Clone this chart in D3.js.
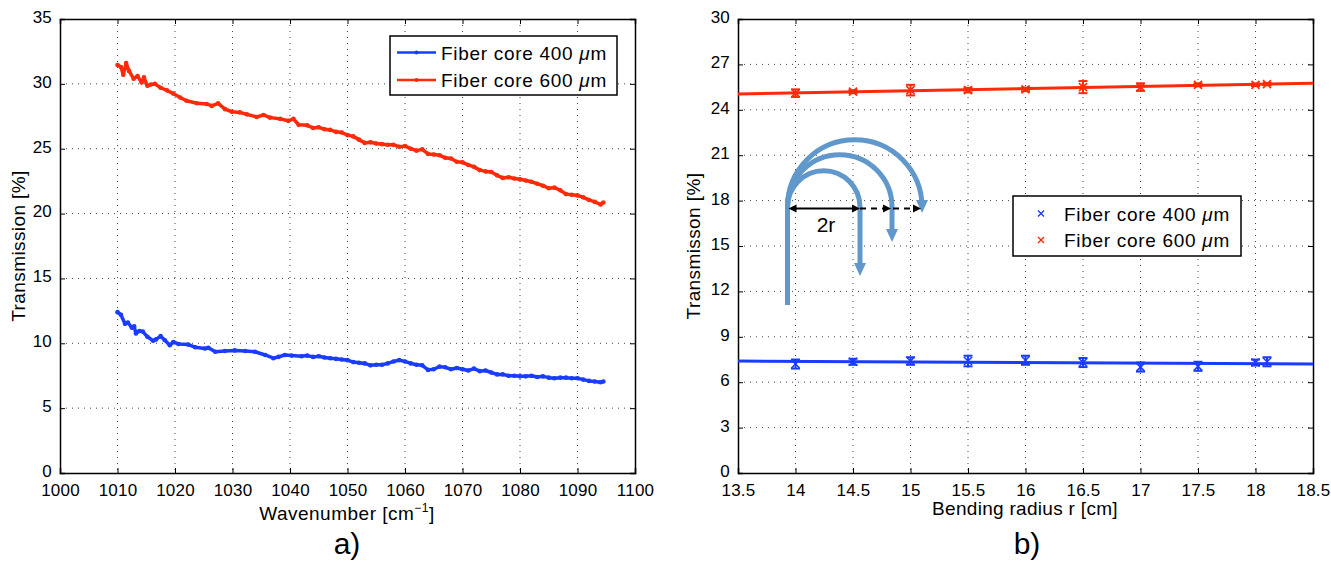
<!DOCTYPE html>
<html><head><meta charset="utf-8">
<script src="https://cdn.jsdelivr.net/npm/d3@7"></script>
<style>
body{margin:0;background:#fff;}
text{font-family:"Liberation Sans",Arial,Helvetica,sans-serif;fill:#000;}
</style></head>
<body><svg id="c" width="1331" height="564"></svg>
<script>
// ---------- Data: panel a ----------
const wnRed = [1010.0,1010.6,1011.0,1011.5,1012.0,1012.8,1013.5,1014.2,1014.6,1015.2,1015.8,1016.5,1017.5,1018.6,1019.7,1020.9,1022.0,1023.8,1025.5,1026.4,1027.5,1028.7,1029.9,1031.3,1032.5,1034.2,1035.4,1036.5,1038.3,1039.7,1040.6,1041.5,1043,1044,1045,1046,1047,1048,1049,1050,1051,1052,1053,1054,1055,1056,1057,1058,1059,1060,1061,1062,1063,1064,1065,1066,1067,1068,1069,1070,1071,1072,1073,1074,1075,1076,1077,1078,1079,1080,1081,1082,1083,1084,1085,1086,1087,1088,1089,1090,1091,1092,1093,1094,1094.5];
const tRed = [31.45,31.3,30.7,31.6,31.0,30.4,30.6,30.1,30.5,29.85,29.95,30.0,29.7,29.5,29.25,28.95,28.7,28.5,28.45,28.3,28.5,28.05,27.85,27.8,27.65,27.45,27.6,27.4,27.3,27.15,27.3,26.85,26.8,26.6,26.65,26.5,26.45,26.3,26.25,26.05,25.95,25.7,25.45,25.5,25.4,25.35,25.3,25.3,25.15,25.2,25.0,24.85,24.95,24.6,24.55,24.5,24.3,24.25,24.0,23.95,23.75,23.6,23.35,23.25,23.2,22.95,22.75,22.8,22.7,22.65,22.55,22.45,22.3,22.15,21.95,22.0,21.8,21.5,21.45,21.4,21.25,21.05,20.9,20.7,20.85];
const wnBlue = [1010.0,1010.6,1011.3,1011.8,1012.5,1012.9,1013.2,1013.8,1014.4,1015.2,1016.2,1016.7,1017.5,1018.2,1019.1,1019.7,1020.6,1022.3,1023.5,1025.2,1025.8,1027.0,1028.7,1030.4,1032.2,1033.9,1035.7,1037.1,1038.0,1039.1,1040.3,1042.0,1043,1044,1045,1046,1047,1048,1049,1050,1051,1052,1053,1054,1055,1056,1057,1058,1059,1060,1061,1062,1063,1064,1065,1066,1067,1068,1069,1070,1071,1072,1073,1074,1075,1076,1077,1078,1079,1080,1081,1082,1083,1084,1085,1086,1087,1088,1089,1090,1091,1092,1093,1094,1094.5];
const tBlue = [12.4,12.2,11.5,11.6,11.2,11.3,10.75,10.95,10.9,10.5,10.2,10.3,10.55,10.25,9.85,10.1,9.95,9.9,9.7,9.6,9.65,9.35,9.4,9.45,9.4,9.35,9.1,8.85,8.95,9.1,9.05,9.0,9.05,8.95,9.0,8.9,8.85,8.8,8.75,8.7,8.55,8.5,8.45,8.3,8.35,8.35,8.45,8.6,8.7,8.6,8.45,8.35,8.3,7.95,8.0,8.2,8.15,8.0,8.1,8.0,7.9,8.05,7.85,7.9,7.75,7.6,7.6,7.5,7.5,7.45,7.45,7.5,7.4,7.45,7.35,7.3,7.35,7.35,7.3,7.3,7.2,7.1,7.05,7.0,7.05];
const xTicksA = [1000,1010,1020,1030,1040,1050,1060,1070,1080,1090,1100];
const yTicksA = [0,5,10,15,20,25,30,35];

// ---------- Data: panel b ----------
const radius = [14,14.5,15,15.5,16,16.5,17,17.5,18,18.1];
const t600 = [25.1,25.2,25.3,25.3,25.35,25.5,25.5,25.65,25.65,25.7];
const e600 = [0.25,0.1,0.35,0.15,0.12,0.4,0.25,0.1,0.08,0.08];
const t400 = [7.2,7.35,7.4,7.4,7.45,7.3,7.0,7.05,7.3,7.35];
const e400 = [0.3,0.2,0.25,0.35,0.3,0.3,0.3,0.3,0.2,0.3];
const fitX = [13.5,18.5];
const fit600 = [25.05,25.75];
const fit400 = [7.4,7.2];
const xTicksB = [13.5,14,14.5,15,15.5,16,16.5,17,17.5,18,18.5];
const yTicksB = [0,3,6,9,12,15,18,21,24,27,30];

const BLUE = "#1a3cff", RED = "#ff2a0a";
const svg = d3.select("#c");
svg.append("rect").attr("width",1331).attr("height",564).attr("fill","#fff");

function frame(g, x, y, xt, yt, fmtX){
  const [x0,x1] = x.range(), [y0,y1] = y.range();
  g.append("g").selectAll("line").data(xt.slice(1,-1)).join("line")
    .attr("x1",d=>x(d)).attr("x2",d=>x(d)).attr("y1",y1).attr("y2",y0)
    .attr("stroke","#444").attr("stroke-width",1).attr("stroke-dasharray","1,5");
  g.append("g").selectAll("line").data(yt.slice(1,-1)).join("line")
    .attr("y1",d=>y(d)).attr("y2",d=>y(d)).attr("x1",x0).attr("x2",x1)
    .attr("stroke","#444").attr("stroke-width",1).attr("stroke-dasharray","1,5");
  const ax = g.append("g");
  ax.append("g").attr("transform",`translate(0,${y0})`)
    .call(d3.axisBottom(x).tickValues(xt).tickSize(-5).tickPadding(11).tickFormat(fmtX));
  ax.append("g").attr("transform",`translate(0,${y1})`)
    .call(d3.axisTop(x).tickValues(xt).tickSize(-5).tickFormat(""));
  const ly = ax.append("g").attr("transform",`translate(${x0},0)`)
    .call(d3.axisLeft(y).tickValues(yt).tickSize(-5).tickPadding(8).tickFormat(d3.format("d")));
  ly.selectAll("text").attr("dy","0.2em");
  ax.append("g").attr("transform",`translate(${x1},0)`)
    .call(d3.axisRight(y).tickValues(yt).tickSize(-5).tickFormat(""));
  ax.selectAll(".domain").attr("stroke","#000").attr("stroke-width",1.5);
  ax.selectAll(".tick line").attr("stroke","#000").attr("stroke-width",1);
  ax.selectAll("text").attr("font-size",17).attr("letter-spacing","0.2px")
    .attr("font-family",'"Liberation Sans",Arial,sans-serif').attr("fill","#000");
}

// ---------- Panel a ----------
const xA = d3.scaleLinear().domain([1000,1100]).range([60,635]);
const yA = d3.scaleLinear().domain([0,35]).range([473,19]);
const gA = svg.append("g");
frame(gA, xA, yA, xTicksA, yTicksA, d3.format("d"));

const lineA = d3.line().x(d=>xA(d[0])).y(d=>yA(d[1]));
[[wnBlue,tBlue,BLUE],[wnRed,tRed,RED]].forEach(([xs,ys,c])=>{
  const pts = xs.map((v,i)=>[v,ys[i]]);
  gA.append("path").datum(pts).attr("d",lineA).attr("fill","none").attr("stroke",c).attr("stroke-width",3.5).attr("stroke-linejoin","round");
  gA.append("g").selectAll("circle").data(pts).join("circle")
    .attr("cx",d=>xA(d[0])).attr("cy",d=>yA(d[1])).attr("r",2.3).attr("fill",c);
});

function legendText(parent, x, y, n){
  const t = parent.append("text").attr("x",x).attr("y",y).attr("font-size",19).attr("letter-spacing","0.7px");
  t.append("tspan").text(`Fiber core ${n} `);
  t.append("tspan").attr("font-style","italic").text("\u03bc");
  t.append("tspan").text("m");
}

// legend a
const legA = gA.append("g");
legA.append("rect").attr("x",390).attr("y",36).attr("width",227).attr("height",59).attr("fill","#fff").attr("stroke","#000").attr("stroke-width",1.5);
[["400",BLUE,52.5],["600",RED,80]].forEach(([n,c,yy])=>{
  legA.append("line").attr("x1",397).attr("x2",436).attr("y1",yy).attr("y2",yy).attr("stroke",c).attr("stroke-width",2.5);
  legA.append("circle").attr("cx",416.5).attr("cy",yy).attr("r",2).attr("fill",c);
  legendText(legA, 441, yy+7, n);
});

// labels a
const xl = svg.append("text").attr("x",347).attr("y",520).attr("text-anchor","middle").attr("font-size",19).attr("letter-spacing","0.5px");
xl.append("tspan").text("Wavenumber [cm");
xl.append("tspan").attr("dy",-8).attr("font-size",12).text("\u22121");
xl.append("tspan").attr("dy",8).text("]");
svg.append("text").attr("transform","translate(25,246) rotate(-90)").attr("text-anchor","middle").attr("font-size",19).attr("letter-spacing","0.4px").text("Transmission [%]");
svg.append("text").attr("x",347).attr("y",554).attr("text-anchor","middle").attr("font-size",30).text("a)");

// ---------- Panel b ----------
const xB = d3.scaleLinear().domain([13.5,18.5]).range([738,1313]);
const yB = d3.scaleLinear().domain([0,30]).range([473,19]);
const gB = svg.append("g");
frame(gB, xB, yB, xTicksB, yTicksB, d => String(d));

[[fit400,t400,e400,BLUE],[fit600,t600,e600,RED]].forEach(([fy,ys,es,c])=>{
  gB.append("line").attr("x1",xB(fitX[0])).attr("x2",xB(fitX[1])).attr("y1",yB(fy[0])).attr("y2",yB(fy[1]))
    .attr("stroke",c).attr("stroke-width",3);
  const g = gB.append("g").attr("stroke",c).attr("stroke-width",2);
  radius.forEach((r,i)=>{
    const cx = xB(r), yt = yB(ys[i]+es[i]), yb = yB(ys[i]-es[i]), cy = yB(ys[i]);
    g.append("line").attr("x1",cx).attr("x2",cx).attr("y1",yt).attr("y2",yb);
    g.append("line").attr("x1",cx-4.5).attr("x2",cx+4.5).attr("y1",yt).attr("y2",yt);
    g.append("line").attr("x1",cx-4.5).attr("x2",cx+4.5).attr("y1",yb).attr("y2",yb);
    g.append("path").attr("d",`M${cx-4},${cy-4}L${cx+4},${cy+4}M${cx-4},${cy+4}L${cx+4},${cy-4}`).attr("stroke-width",1.6);
  });
});

// legend b
const legB = gB.append("g");
legB.append("rect").attr("x",1013).attr("y",196).attr("width",228).attr("height",60).attr("fill","#fff").attr("stroke","#000").attr("stroke-width",1.5);
[["400",BLUE,213.5],["600",RED,240]].forEach(([n,c,yy])=>{
  legB.append("path").attr("d",`M1038,${yy-3}L1044,${yy+3}M1038,${yy+3}L1044,${yy-3}`).attr("stroke",c).attr("stroke-width",1.4);
  legendText(legB, 1064, yy+7, n);
});

// labels b
svg.append("text").attr("x",1025).attr("y",515).attr("text-anchor","middle").attr("font-size",19).attr("letter-spacing","0.3px").text("Bending radius r [cm]");
svg.append("text").attr("transform","translate(700,246) rotate(-90)").attr("text-anchor","middle").attr("font-size",19).attr("letter-spacing","0.4px").text("Transmisson [%]");
svg.append("text").attr("x",1027).attr("y",554).attr("text-anchor","middle").attr("font-size",30).text("b)");

// ---------- Inset illustration (bending sketch) ----------
const ill = svg.append("g");
const SB = "#6098cc";
const sx = 787.5, sy = 207;
ill.append("line").attr("x1",sx).attr("x2",sx).attr("y1",305).attr("y2",sy).attr("stroke",SB).attr("stroke-width",5);
[[860,272],[892,238],[922,209]].forEach(([ex,ey])=>{
  const R = (ex-sx)/2;
  ill.append("path").attr("d",`M${sx},${sy}A${R},${R} 0 0 1 ${ex},${sy}L${ex},${ey-8}`)
    .attr("fill","none").attr("stroke",SB).attr("stroke-width",5);
  ill.append("path").attr("d",`M${ex-6},${ey-9}L${ex+6},${ey-9}L${ex},${ey+4}Z`).attr("fill",SB);
});
const ay = 208.5;
ill.append("line").attr("x1",sx+6).attr("x2",860-6).attr("y1",ay).attr("y2",ay).attr("stroke","#000").attr("stroke-width",1.8);
ill.append("line").attr("x1",860).attr("x2",922-6).attr("y1",ay).attr("y2",ay).attr("stroke","#000").attr("stroke-width",1.8).attr("stroke-dasharray","6,5");
function head(x,dir){ ill.append("path").attr("d",`M${x},${ay}L${x-dir*8},${ay-4}L${x-dir*8},${ay+4}Z`).attr("fill","#000"); }
head(sx+1,-1); head(860,1); head(891,1); head(921,1);
ill.append("text").attr("x",826).attr("y",232).attr("text-anchor","middle").attr("font-size",21).text("2r");
</script></body></html>
